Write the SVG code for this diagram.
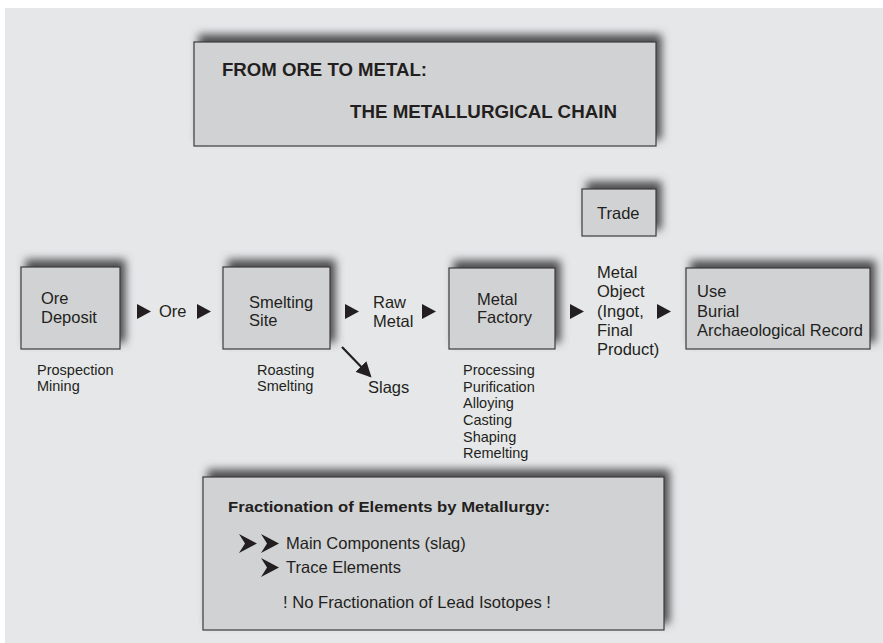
<svg xmlns="http://www.w3.org/2000/svg" width="883" height="643" viewBox="0 0 883 643">
<style>
.box{fill:#d1d2d4;stroke:#3c3b3d;stroke-width:1.2}
.t{font-family:"Liberation Sans",Arial,sans-serif;fill:#231f20}
.m{font-size:16.5px}
.s{font-size:14.5px}
.b{font-weight:bold}
.tri{fill:#231f20}
</style>
<defs>
<filter id="sh" x="-20%" y="-40%" width="140%" height="180%">
<feOffset in="SourceAlpha" dx="5" dy="-7" result="o"/>
<feGaussianBlur in="o" stdDeviation="4.5" result="b"/>
<feFlood flood-color="#4d4d4f" flood-opacity="1"/>
<feComposite in2="b" operator="in" result="c"/>
<feMerge><feMergeNode in="c"/><feMergeNode in="SourceGraphic"/></feMerge>
</filter>
<marker id="ah" markerWidth="7" markerHeight="7" refX="6" refY="3.5" orient="auto" markerUnits="strokeWidth">
<path d="M0,0 L7,3.5 L0,7 Z" fill="#231f20"/>
</marker>
</defs>
<rect x="5" y="8" width="878" height="635" fill="#e6e7e8"/>

<g id="title">
<rect class="box" x="194" y="42" width="462" height="104" filter="url(#sh)"/>
<text class="t b" x="222" y="76" font-size="17.5" textLength="205" lengthAdjust="spacingAndGlyphs">FROM ORE TO METAL:</text>
<text class="t b" x="350" y="118" font-size="17.5" textLength="267" lengthAdjust="spacingAndGlyphs">THE METALLURGICAL CHAIN</text>
</g>

<g id="ore-deposit">
<rect class="box" x="21" y="267" width="99" height="82" filter="url(#sh)"/>
<text class="t m" x="41" y="304">Ore</text>
<text class="t m" x="41" y="323">Deposit</text>
<text class="t s" x="37" y="375">Prospection</text>
<text class="t s" x="37" y="391">Mining</text>
</g>

<g id="smelting-site">
<rect class="box" x="223" y="267" width="107" height="82" filter="url(#sh)"/>
<text class="t m" x="249" y="308">Smelting</text>
<text class="t m" x="249" y="326">Site</text>
<text class="t s" x="257" y="375">Roasting</text>
<text class="t s" x="257" y="391">Smelting</text>
</g>

<g id="metal-factory">
<rect class="box" x="449" y="268" width="106" height="81" filter="url(#sh)"/>
<text class="t m" x="477" y="305">Metal</text>
<text class="t m" x="477" y="323">Factory</text>
<text class="t s" x="463" y="375">Processing</text>
<text class="t s" x="463" y="392">Purification</text>
<text class="t s" x="463" y="408">Alloying</text>
<text class="t s" x="463" y="425">Casting</text>
<text class="t s" x="463" y="442">Shaping</text>
<text class="t s" x="463" y="458">Remelting</text>
</g>

<g id="trade">
<rect class="box" x="582" y="189" width="74" height="47" filter="url(#sh)"/>
<text class="t m" x="597" y="219">Trade</text>
</g>

<g id="use">
<rect class="box" x="686" y="268" width="184" height="81" filter="url(#sh)"/>
<text class="t m" x="697" y="297">Use</text>
<text class="t m" x="697" y="317">Burial</text>
<text class="t m" x="697" y="336">Archaeological Record</text>
</g>

<g id="fractionation">
<rect class="box" x="203" y="477" width="461" height="153" filter="url(#sh)"/>
<text class="t b" x="228" y="512" font-size="15" textLength="322" lengthAdjust="spacingAndGlyphs">Fractionation of Elements by Metallurgy:</text>
<path class="tri" d="M239,534 L257,543.5 L239,553 L245,543.5 Z"/>
<path class="tri" d="M261,534 L279,543.5 L261,553 L267,543.5 Z"/>
<text class="t m" x="286" y="549">Main Components (slag)</text>
<path class="tri" d="M261,558 L279,567.5 L261,577 L267,567.5 Z"/>
<text class="t m" x="286" y="573">Trace Elements</text>
<text class="t m" x="283" y="608" textLength="268" lengthAdjust="spacingAndGlyphs">! No Fractionation of Lead Isotopes !</text>
</g>

<g id="connectors">
<polygon class="tri" points="137,304 151,311.5 137,319"/>
<text class="t m" x="159" y="317">Ore</text>
<polygon class="tri" points="197,304 211,311.5 197,319"/>
<polygon class="tri" points="345,304 359,311.5 345,319"/>
<text class="t m" x="373" y="308">Raw</text>
<text class="t m" x="373" y="327">Metal</text>
<polygon class="tri" points="422,304 436,311.5 422,319"/>
<polygon class="tri" points="570,304 584,311.5 570,319"/>
<text class="t m" x="597" y="278">Metal</text>
<text class="t m" x="597" y="297">Object</text>
<text class="t m" x="597" y="317">(Ingot,</text>
<text class="t m" x="597" y="336">Final</text>
<text class="t m" x="597" y="355">Product)</text>
<polygon class="tri" points="657,304 671,311.5 657,319"/>
<line x1="342" y1="347" x2="370" y2="376" stroke="#231f20" stroke-width="2.2" marker-end="url(#ah)"/>
<text class="t m" x="368" y="393">Slags</text>
</g>
</svg>
